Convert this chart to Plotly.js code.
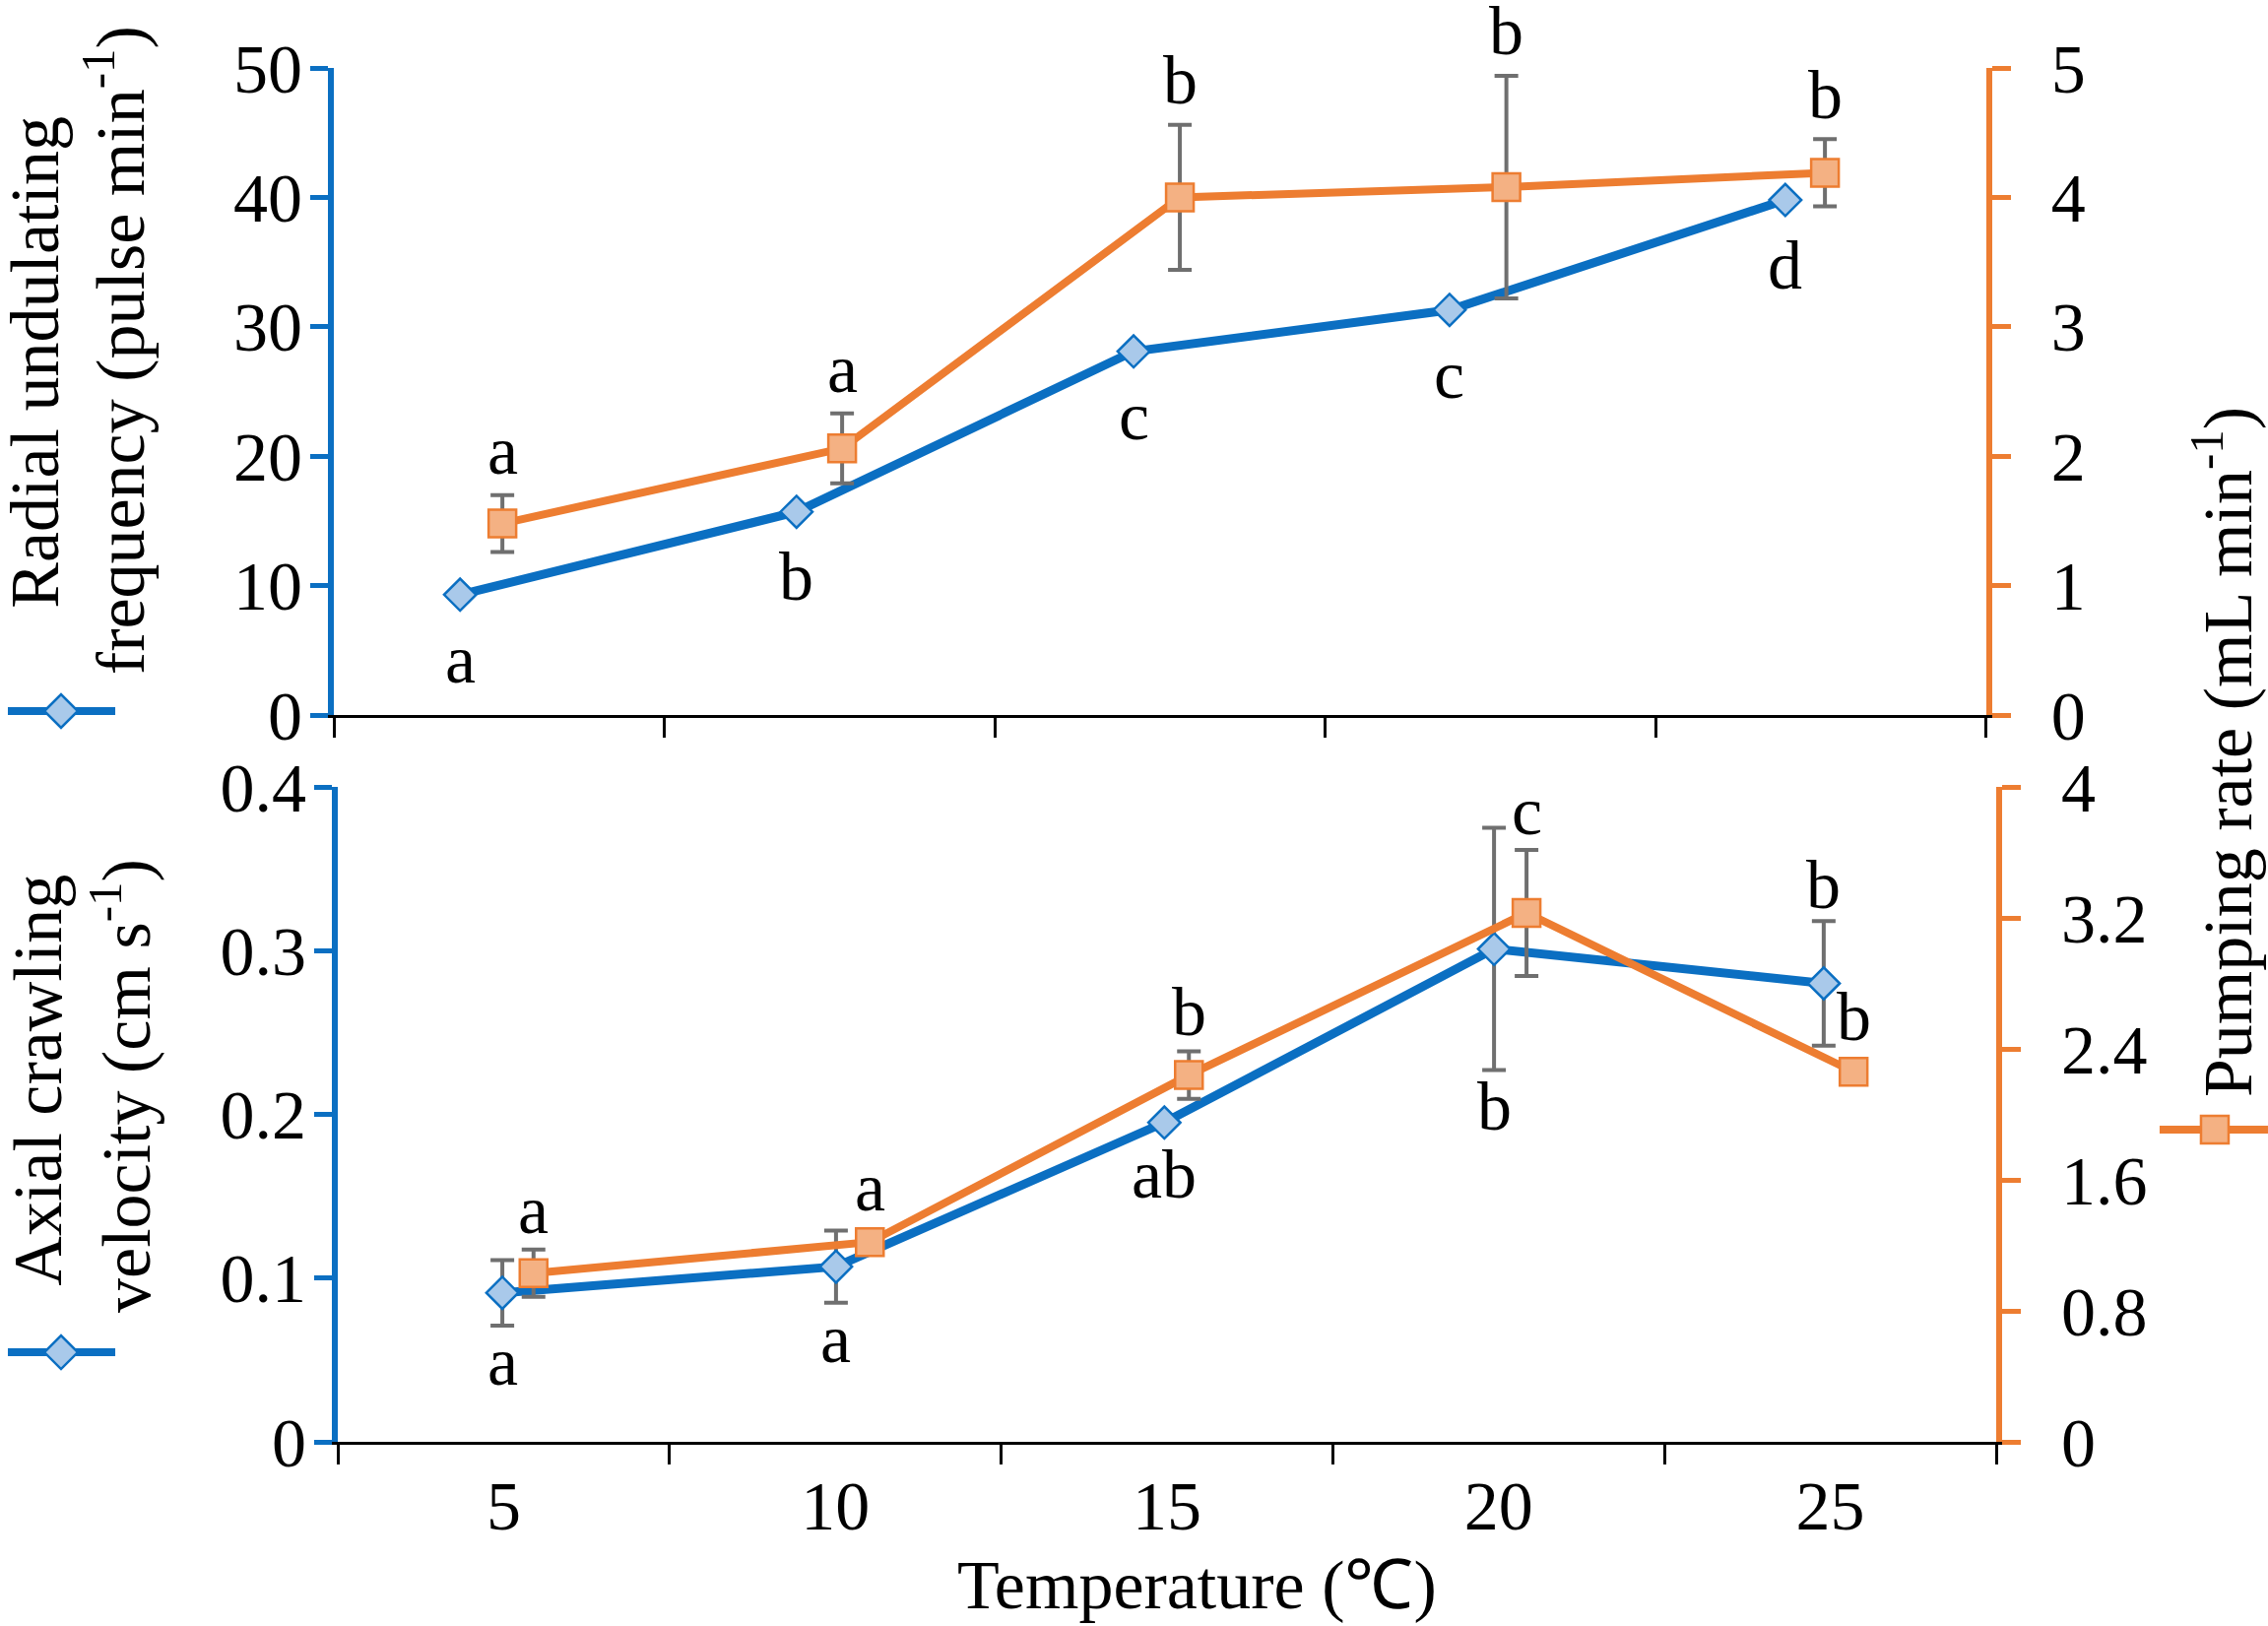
<!DOCTYPE html>
<html>
<head>
<meta charset="utf-8">
<script src="https://cdn.plot.ly/plotly-3.0.1.min.js"></script>
<style>
  body { margin: 0; background: #fff; }
  #chart { width: 2303px; height: 1651px; }
</style>
</head>
<body>
<div id="chart"></div>
<script>
// temperature categories
var temps = [5, 10, 15, 20, 25];
var tempLabels = ['5', '10', '15', '20', '25'];

// top panel: radial undulating frequency (left) and pumping rate (right)
var radialX = [4.41, 9.5, 14.6, 19.38, 24.46];
var radialY = [9.3, 15.7, 28.1, 31.3, 39.8];
var radialLetters = ['a', 'b', 'c', 'c', 'd'];

var pumpTopX = [5.05, 10.19, 15.3, 20.24, 25.06];
var pumpTopY = [1.48, 2.06, 4.0, 4.08, 4.19];
var pumpTopErr = [0.22, 0.27, 0.56, 0.86, 0.26];
var pumpTopLetters = ['a', 'a', 'b', 'b', 'b'];

// bottom panel: axial crawling velocity (left) and pumping rate (right)
var axialX = [4.98, 10.01, 14.96, 19.93, 24.9];
var axialY = [0.091, 0.107, 0.195, 0.301, 0.28];
var axialErr = [0.02, 0.022, 0, 0.074, 0.038];
var axialLetters = ['a', 'a', 'ab', 'b', 'b'];
var axialSides = ['below', 'below', 'below', 'below', 'above'];

var pumpBotX = [5.45, 10.52, 15.33, 20.42, 25.35];
var pumpBotY = [1.03, 1.22, 2.24, 3.23, 2.26];
var pumpBotErr = [0.145, 0, 0.145, 0.385, 0];
var pumpBotLetters = ['a', 'a', 'b', 'c', 'b'];

var BLUE = '#0b6fc2', BLUE_FILL = '#a9c9ea';
var ORANGE = '#ed7d31', ORANGE_FILL = '#f4b183';
var GREY = '#6f6f6f';
var FONT = 'Liberation Serif, Times New Roman, serif';
var FS = 70;

function blueTrace(x, y, err, xa, ya) {
  var t = {
    x: x, y: y, xaxis: xa, yaxis: ya,
    type: 'scatter', mode: 'lines+markers',
    line: {color: BLUE, width: 9},
    marker: {symbol: 'diamond', size: 25, color: BLUE_FILL, line: {color: BLUE, width: 2.5}},
    cliponaxis: false
  };
  if (err) t.error_y = {type: 'data', array: err, visible: true, color: GREY, thickness: 4, width: 12};
  return t;
}

function orangeTrace(x, y, err, xa, ya) {
  return {
    x: x, y: y, xaxis: xa, yaxis: ya,
    type: 'scatter', mode: 'lines+markers',
    line: {color: ORANGE, width: 8},
    marker: {symbol: 'square', size: 28, color: ORANGE_FILL, line: {color: ORANGE, width: 2.5}},
    error_y: {type: 'data', array: err, visible: true, color: GREY, thickness: 4, width: 12},
    cliponaxis: false
  };
}

var data = [
  blueTrace(radialX, radialY, null, 'x', 'y'),
  orangeTrace(pumpTopX, pumpTopY, pumpTopErr, 'x', 'y2'),
  blueTrace(axialX, axialY, axialErr, 'x2', 'y3'),
  orangeTrace(pumpBotX, pumpBotY, pumpBotErr, 'x2', 'y4')
];

// significance letters placed just beyond the error bar ends
// (a bit further out when there is no bar, to clear the marker)
function letters(xs, ys, errs, txt, sides, xref, yref, gap) {
  var out = [];
  for (var i = 0; i < xs.length; i++) {
    var e = errs ? errs[i] : 0;
    var up = sides[i] === 'above';
    var shift = gap + (e ? 0 : 16);
    out.push({
      x: xs[i], y: up ? ys[i] + e : ys[i] - e,
      xref: xref, yref: yref, text: txt[i], showarrow: false,
      xanchor: 'center', yanchor: 'middle', yshift: up ? shift : -shift,
      font: {family: FONT, size: FS, color: '#000'}
    });
  }
  return out;
}

var all = function (s) { return [s, s, s, s, s]; };

var annotations = []
  .concat(letters(radialX, radialY, null, radialLetters, all('below'), 'x', 'y', 50))
  .concat(letters(pumpTopX, pumpTopY, pumpTopErr, pumpTopLetters, all('above'), 'x', 'y2', 45))
  .concat(letters(axialX, axialY, axialErr, axialLetters, axialSides, 'x2', 'y3', 37))
  .concat(letters(pumpBotX, pumpBotY, pumpBotErr, pumpBotLetters, all('above'), 'x2', 'y4', 40));

function title(text, x, y, angle) {
  return {
    text: text, x: x, y: y, xref: 'paper', yref: 'paper', showarrow: false,
    textangle: angle, xanchor: 'center', yanchor: 'middle', borderpad: 0,
    font: {family: FONT, size: FS, color: '#000'}
  };
}

annotations.push(title('Radial undulating', -0.180, 0.786, -90));
annotations.push(title('frequency (pulse min<sup>-1</sup>)', -0.132, 0.7943, -90));
annotations.push(title('Axial crawling', -0.178, 0.263, -90));
annotations.push(title('velocity (cm s<sup>-1</sup>)', -0.128, 0.2595, -90));
annotations.push(title('Pumping rate (mL min<sup>-1</sup>)', 1.1363, 0.5018, -90));
annotations.push(title('Temperature (℃)', 0.5195, -0.104, 0));

// legend keys drawn beside the axis titles
function keyLine(x0, x1, y, color) {
  return {type: 'line', xref: 'paper', yref: 'paper', x0: x0, x1: x1, y0: y, y1: y,
    line: {color: color, width: 8}};
}
function keyMarker(x, y, path, fill, color) {
  return {type: 'path', xref: 'paper', yref: 'paper', xsizemode: 'pixel', ysizemode: 'pixel',
    xanchor: x, yanchor: y, path: path, fillcolor: fill, line: {color: color, width: 2.5}};
}
var diamondPath = 'M -17 0 L 0 17 L 17 0 L 0 -17 Z';
var squarePath = 'M -14 -14 L 14 -14 L 14 14 L -14 14 Z';

var shapes = [
  keyLine(-0.1961, -0.1315, 0.5319, BLUE),
  keyMarker(-0.1641, 0.5319, diamondPath, BLUE_FILL, BLUE),
  keyLine(-0.1961, -0.1315, 0.0652, BLUE),
  keyMarker(-0.1641, 0.0652, diamondPath, BLUE_FILL, BLUE),
  keyLine(1.0983, 1.1635, 0.2272, ORANGE),
  keyMarker(1.1315, 0.2272, squarePath, ORANGE_FILL, ORANGE)
];

var tickFont = {family: FONT, size: FS, color: '#000'};

function xAxis(domain, anchor, labels) {
  return {
    domain: domain, anchor: anchor, range: [2.5, 27.5],
    tickmode: 'array', tickvals: temps, ticktext: tempLabels, ticks: '',
    showticklabels: labels, tickfont: tickFont, ticklabelstandoff: 2,
    showline: true, linecolor: '#000', linewidth: 3,
    showgrid: false, zeroline: false,
    minor: {ticks: 'outside', tick0: 2.5, dtick: 5, ticklen: 20, tickwidth: 3, tickcolor: '#000', showgrid: false}
  };
}

function yAxis(domain, anchor, range, dtick, color, side, overlay) {
  var a = {
    domain: domain, anchor: anchor, range: range, dtick: dtick, side: side,
    showline: true, linecolor: color, linewidth: 6,
    ticks: 'outside', ticklen: side === 'left' ? 18 : 19, tickwidth: 5, tickcolor: color,
    tickfont: tickFont, ticklabelstandoff: side === 'left' ? -6 : 27,
    showgrid: false, zeroline: false
  };
  if (overlay) { a.overlaying = overlay; a.domain = undefined; }
  return a;
}

var layout = {
  width: 2303, height: 1651,
  margin: {l: 339, r: 276, t: 69, b: 187},
  paper_bgcolor: '#fff', plot_bgcolor: 'rgba(0,0,0,0)',
  showlegend: false,
  font: {family: FONT, size: FS, color: '#000'},
  xaxis: xAxis([0, 0.994], 'y', false),
  xaxis2: xAxis([0.0024, 1], 'y3', true),
  yaxis: yAxis([0.529, 1], 'x', [0, 50], 10, BLUE, 'left'),
  yaxis2: yAxis(null, 'x', [0, 5], 1, ORANGE, 'right', 'y'),
  yaxis3: yAxis([0, 0.4767], 'x2', [0, 0.4], 0.1, BLUE, 'left'),
  yaxis4: yAxis(null, 'x2', [0, 4], 0.8, ORANGE, 'right', 'y3'),
  annotations: annotations,
  shapes: shapes
};

Plotly.newPlot('chart', data, layout, {staticPlot: true});
</script>
</body>
</html>
